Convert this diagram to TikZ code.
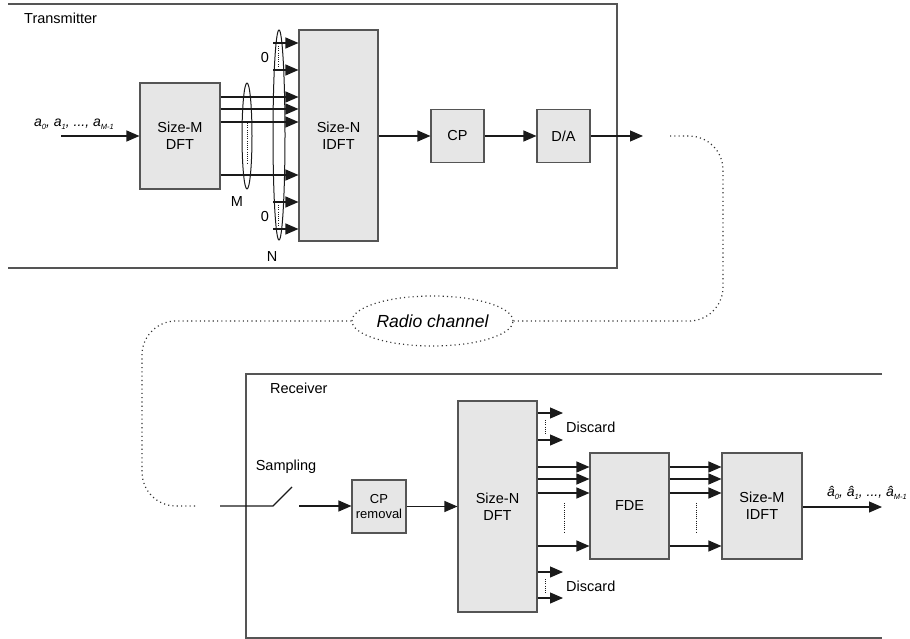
\documentclass[tikz,border=0pt]{standalone}
\usepackage{fontspec}
\setmainfont{Liberation Sans}
\usetikzlibrary{arrows.meta,shapes.geometric}
\definecolor{boxfill}{HTML}{E6E6E6}
\definecolor{boxline}{HTML}{555555}
\definecolor{wire}{HTML}{1A1A1A}
\definecolor{chancol}{HTML}{333333}
\tikzset{
  blk/.style={draw=boxline, fill=boxfill, line width=1.1pt, inner sep=0pt,
    align=center, font=\fontsize{14.5}{17}\selectfont},
  arr/.style={draw=wire, line width=1.1pt, -{Triangle[length=13pt,width=11pt]}},
  wireline/.style={draw=wire, line width=1.1pt},
  frame/.style={draw=boxline, line width=1.2pt},
  chan/.style={draw=chancol, line width=1.2pt, dash pattern=on 1.1pt off 3.2pt},
  vdots/.style={draw=wire, line width=0.9pt, dash pattern=on 1pt off 1.2pt},
  grp/.style={draw=wire, line width=1pt, ellipse, inner sep=0pt},
  lbl/.style={font=\fontsize{14.5}{17}\selectfont, inner sep=0pt},
  sym/.style={font=\fontsize{14}{16}\selectfont\itshape, inner sep=0pt}
}
\newcommand{\sbs}[1]{\raisebox{-0.35ex}{\fontsize{7.5}{8}\selectfont #1}}
\begin{document}
\begin{tikzpicture}[x=1pt,y=-1pt]
\useasboundingbox (0,0) rectangle (910,639);

% transmitter and receiver frames
\draw[frame] (8,4) -- (617,4) -- (617,268) -- (8,268);
\node[lbl, anchor=west] (txlbl) at (24,18) {Transmitter};
\draw[frame] (882,374) -- (246,374) -- (246,638) -- (882,638);
\node[lbl, anchor=west] (rxlbl) at (270,388) {Receiver};

% transmitter blocks
\node[blk, minimum width=80pt, minimum height=106pt] (dftM) at (180,136) {Size-M\\DFT};
\node[blk, minimum width=79pt, minimum height=211pt] (idftN) at (338.5,135.5) {Size-N\\IDFT};
\node[blk, minimum width=53pt, minimum height=53pt] (cp) at (457.5,136) {CP};
\node[blk, minimum width=53pt, minimum height=53pt] (da) at (563.5,136) {D/A};

% input symbols
\coordinate (src) at (61,136);
\draw[arr] (src) -- (dftM.west);
\node[sym] (inlbl) at (74,124) {a\sbs{0}, a\sbs{1}, ..., a\sbs{M-1}};

% DFT outputs to IDFT inputs
\foreach \yy in {97,109,122,175}
  \draw[arr] (dftM.east |- 0,\yy) -- (idftN.west |- 0,\yy);
% zero-padded inputs
\foreach \yy/\nm in {43/z1,70/z2,202/z3,229/z4}{
  \coordinate (\nm) at (273,\yy);
  \draw[arr] (\nm) -- (idftN.west |- \nm);
}
\node[grp, minimum width=10pt, minimum height=106pt] (grpM) at (247,136) {};
\node[grp, minimum width=12pt, minimum height=210pt] (grpN) at (279,135) {};
\draw[vdots] (247,123) -- (247,163);
\draw[vdots] (278,46) -- (278,66);
\draw[vdots] (278,205) -- (278,225);
\node[lbl] (zeroA) at (265,58) {0};
\node[lbl] (zeroB) at (265,217) {0};
\node[lbl] (labM) at (237,202) {M};
\node[lbl] (labN) at (272,257) {N};

\draw[arr] (idftN.east |- cp.west) -- (cp.west);
\draw[arr] (cp.east) -- (da.west);
\coordinate (txout) at (643,136);
\draw[arr] (da.east) -- (txout);

% radio channel
\node[draw=chancol, line width=1.2pt, dash pattern=on 1.1pt off 3.2pt, ellipse,
  minimum width=161pt, minimum height=50pt, inner sep=0pt,
  font=\fontsize{17.5}{20}\selectfont\itshape] (radio) at (432.5,321) {Radio channel};
\coordinate (chanA) at (670,136);
\coordinate (chanB) at (195,506);
\draw[chan, rounded corners=34pt] (chanA) -- (723,136) -- (723,321) -- (radio.east);
\draw[chan, rounded corners=34pt] (radio.west) -- (142,321) -- (142,506) -- (chanB);

% receiver blocks
\node[blk, minimum width=54pt, minimum height=53pt,
  font=\fontsize{13}{15}\selectfont] (cprm) at (379,506.5) {CP\\removal};
\node[blk, minimum width=79pt, minimum height=211pt] (dftN) at (497.5,506.5) {Size-N\\DFT};
\node[blk, minimum width=79pt, minimum height=106pt] (fde) at (629.5,506) {FDE};
\node[blk, minimum width=80pt, minimum height=106pt] (idftM) at (762,506) {Size-M\\IDFT};

% sampling switch
\coordinate (rxin) at (220,506);
\coordinate (swA) at (273,506);
\coordinate (swB) at (292,487);
\coordinate (swC) at (299,506);
\draw[wireline] (rxin) -- (swA) -- (swB);
\draw[arr] (swC) -- (cprm.west |- swC);
\node[lbl] (samp) at (286,467) {Sampling};

\draw[arr] (cprm.east) -- (dftN.west |- cprm.east);

% discarded outputs
\foreach \yy/\nm in {413/d1,440/d2,572/d3,598/d4}{
  \coordinate (\nm) at (563,\yy);
  \draw[arr] (dftN.east |- \nm) -- (\nm);
}
\draw[vdots] (545,420) -- (545,434);
\draw[vdots] (545,579) -- (545,593);
\node[lbl, anchor=west] (disA) at (566,427) {Discard};
\node[lbl, anchor=west] (disB) at (566,586) {Discard};

% DFT to FDE, FDE to IDFT
\foreach \yy in {467,479,493,546}{
  \draw[arr] (dftN.east |- 0,\yy) -- (fde.west |- 0,\yy);
  \draw[arr] (fde.east |- 0,\yy) -- (idftM.west |- 0,\yy);
}
\draw[vdots] (564,503) -- (564,533);
\draw[vdots] (696,503) -- (696,533);

% output symbols
\coordinate (sink) at (882,507);
\draw[arr] (idftM.east |- sink) -- (sink);
\node[sym] (outlbl) at (867,493) {â\sbs{0}, â\sbs{1}, ..., â\sbs{M-1}};
\end{tikzpicture}
\end{document}
